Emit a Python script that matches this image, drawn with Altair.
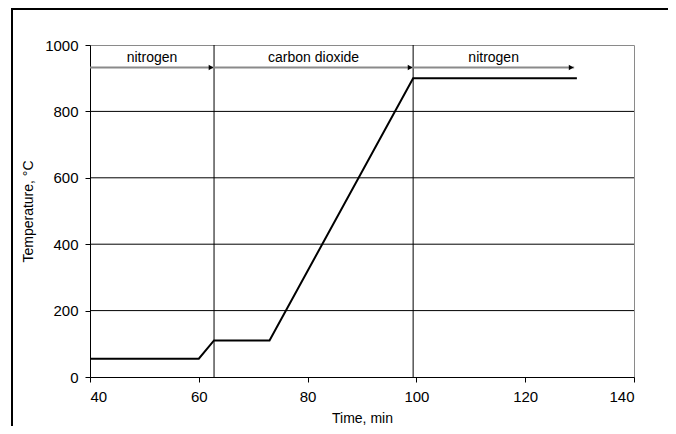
import altair as alt
import pandas as pd

# Temperature programme
time_min = [40, 60, 62.8, 73, 99.4, 129.5]
temperature = [55, 55, 110, 110, 900, 900]

# Gas atmosphere phases
gas_labels = ["nitrogen", "carbon dioxide", "nitrogen"]
gas_start = [40, 62.8, 99.4]
gas_end = [62.8, 99.4, 129]
arrow_level = 932
label_level = 962

switch_times = [62.8, 99.4]
grid_temps = [200, 400, 600, 800]
x_ticks = [40, 60, 80, 100, 120, 140]
y_ticks = [0, 200, 400, 600, 800, 1000]

FONT = "Liberation Sans"

line_df = pd.DataFrame({"t": time_min, "T": temperature})
phase_df = pd.DataFrame({
    "label": gas_labels,
    "start": gas_start,
    "end": gas_end,
})
phase_df["mid"] = (phase_df["start"] + phase_df["end"]) / 2
phase_df["y"] = arrow_level
phase_df["ly"] = label_level
switch_df = pd.DataFrame({"t": switch_times, "y0": 0, "y1": 1000})
grid_df = pd.DataFrame({"T": grid_temps})

xs = alt.Scale(domain=[40, 140], nice=False, zero=False)
ys = alt.Scale(domain=[0, 1000], nice=False)

axis_style = dict(
    grid=False, tickSize=5, labelPadding=7, format="d",
    labelFont=FONT, titleFont=FONT, labelFontSize=15, titleFontSize=14,
    titleFontWeight="normal", labelColor="black", titleColor="black",
    domainColor="black", tickColor="black", domainWidth=1, tickWidth=1,
)
x_axis = alt.Axis(values=x_ticks, title="Time, min", titlePadding=7, **axis_style)
y_axis = alt.Axis(values=y_ticks, title="Temperature, °C", titlePadding=9, **axis_style)

base_line = alt.Chart(line_df).mark_line(color="black", strokeWidth=2).encode(
    x=alt.X("t:Q", scale=xs, axis=x_axis),
    y=alt.Y("T:Q", scale=ys, axis=y_axis),
)

grid = alt.Chart(grid_df).mark_rule(color="black", strokeWidth=1).encode(
    y=alt.Y("T:Q", scale=ys),
)

switches = alt.Chart(switch_df).mark_rule(color="black", strokeWidth=1).encode(
    x=alt.X("t:Q", scale=xs),
    y=alt.Y("y0:Q", scale=ys),
    y2="y1:Q",
)

arrows = alt.Chart(phase_df).mark_rule(color="#8a8a8a", strokeWidth=2).encode(
    x=alt.X("start:Q", scale=xs),
    x2="end:Q",
    y=alt.Y("y:Q", scale=ys),
)

heads = alt.Chart(phase_df).mark_point(
    shape="triangle-right", filled=True, size=30, color="black", opacity=1, xOffset=-3
).encode(
    x=alt.X("end:Q", scale=xs),
    y=alt.Y("y:Q", scale=ys),
)

labels = alt.Chart(phase_df).mark_text(font=FONT, fontSize=14, color="black").encode(
    x=alt.X("mid:Q", scale=xs),
    y=alt.Y("ly:Q", scale=ys),
    text="label:N",
)

frame_left = alt.Chart(line_df).mark_rule(color="black", strokeWidth=2).encode(
    x=alt.value(-78), y=alt.value(-36), y2=alt.value(388)
)
frame_top = alt.Chart(line_df).mark_rule(color="black", strokeWidth=2).encode(
    x=alt.value(-79), x2=alt.value(578), y=alt.value(-36)
)

chart = alt.layer(
    grid, switches, arrows, heads, labels, base_line, frame_left, frame_top
).properties(
    width=544,
    height=332,
    background="white",
    autosize=alt.AutoSizeParams(type="none"),
    padding={"left": 82, "top": 37, "right": 34, "bottom": 49},
).configure_view(
    stroke="#8a8a8a", strokeWidth=1
)

chart.save("out.html", embed_options={"renderer": "svg", "actions": False})
